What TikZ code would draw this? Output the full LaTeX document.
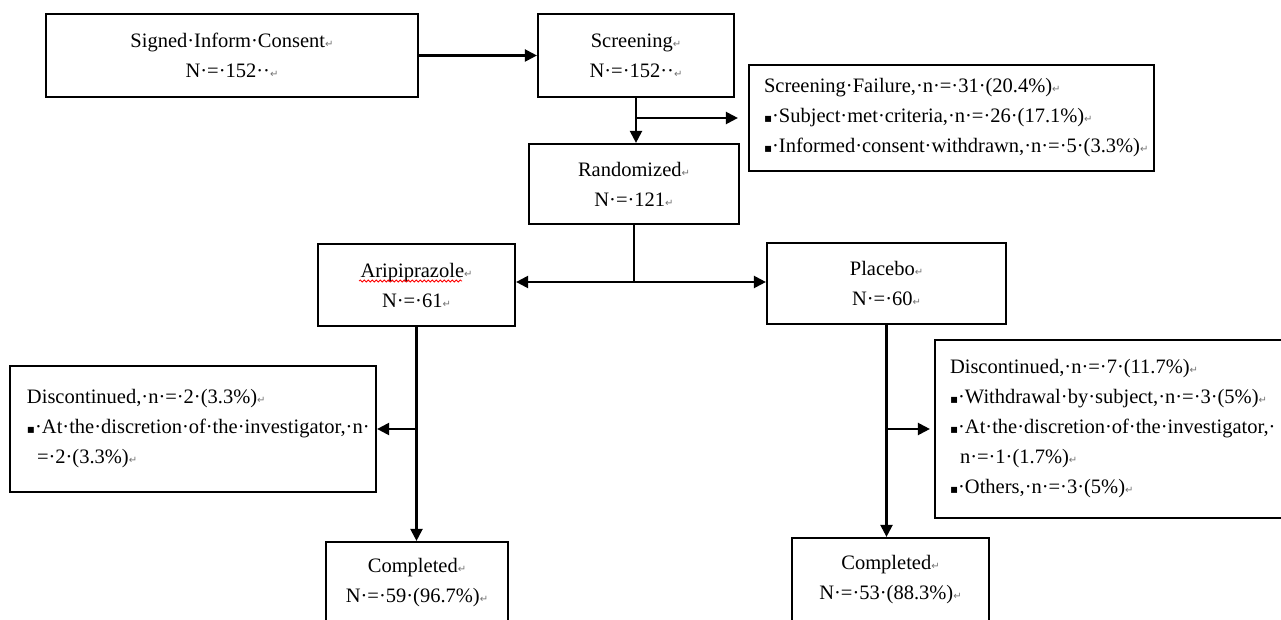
\documentclass[tikz,border=0pt]{standalone}
\usepackage{fontspec}
\setmainfont{Liberation Serif}
\newfontfamily\markfont{DejaVu Sans}
\usetikzlibrary{arrows.meta,calc,positioning,decorations.pathmorphing}
\newcommand{\mainfs}{\fontsize{20.5}{30}\selectfont}
\newcommand{\retmark}{{\markfont\fontsize{10}{10}\selectfont\textcolor{black!55}{↵}}}
\newcommand{\sqbul}{{\markfont\fontsize{12}{12}\selectfont ▪}}
\tikzset{
  box/.style={draw, line width=2.2pt, inner sep=0pt, align=center, font=\mainfs},
  listbox/.style={draw, line width=2.2pt, inner xsep=15pt, inner ysep=0pt, align=left, font=\mainfs},
  flow/.style={line width=2.2pt, ->},
}

\begin{document}
\begin{tikzpicture}[x=1pt, y=-1pt, >={Triangle[length=12pt,width=12pt]}]
\useasboundingbox (0,0) rectangle (1281,620);

% Draw boxes.
\node[box, minimum width=372pt, minimum height=83pt] (consent) at (232,55.5)
  {Signed·Inform·Consent\retmark\\N·=·152··\retmark};
\node[box, minimum width=196pt, minimum height=83pt] (screening) at (636,55.5)
  {Screening\retmark\\N·=·152··\retmark};
\node[listbox, text width=375pt, minimum height=106pt] (failure) at (951.5,118)
  {Screening·Failure,·n·=·31·(20.4\%)\retmark\\
   \sqbul·Subject·met·criteria,·n·=·26·(17.1\%)\retmark\\
   \sqbul·Informed·consent·withdrawn,·n·=·5·(3.3\%)\retmark};
\node[box, minimum width=210pt, minimum height=80pt] (randomized) at (634,184)
  {Randomized\retmark\\N·=·121\retmark};
\node[box, minimum width=197pt, minimum height=82pt] (aripiprazole) at (416.5,285)
  {Aripiprazole\retmark\\N·=·61\retmark};
\node[box, minimum width=239pt, minimum height=81pt] (placebo) at (886.5,283.5)
  {Placebo\retmark\\N·=·60\retmark};
\node[listbox, inner xsep=17pt, text width=332pt, minimum height=126pt] (discA) at (193,429)
  {Discontinued,·n·=·2·(3.3\%)\retmark\\
   \sqbul·At·the·discretion·of·the·investigator,·n·\\
   \hspace*{10pt}=·2·(3.3\%)\retmark};
\node[listbox, text width=325pt, minimum height=178pt] (discP) at (1112.5,429)
  {Discontinued,·n·=·7·(11.7\%)\retmark\\
   \sqbul·Withdrawal·by·subject,·n·=·3·(5\%)\retmark\\
   \sqbul·At·the·discretion·of·the·investigator,·\\
   \hspace*{10pt}n·=·1·(1.7\%)\retmark\\
   \sqbul·Others,·n·=·3·(5\%)\retmark};
\node[box, minimum width=182pt, minimum height=81pt] (completedA) at (417,582.5)
  {Completed\retmark\\N·=·59·(96.7\%)\retmark};
\node[box, minimum width=197pt, minimum height=84pt] (completedP) at (890.5,580)
  {Completed\retmark\\N·=·53·(88.3\%)\retmark};

% Spell check underline.
\draw[red, line width=0.8pt, decorate, decoration={snake, amplitude=1pt, segment length=4pt}]
  (359,281) -- (462,281);

% Draw connectors.
\draw[flow] (consent) -- (screening);
\draw[flow] (screening.south) -- (screening.south |- randomized.north);
\draw[flow, shorten >=10pt] (screening.south |- failure.west) -- (failure.west);

\coordinate (split) at (634,282);
\draw[line width=2.2pt] (randomized.south) -- (split);
\draw[flow] (split) -- (split -| aripiprazole.east);
\draw[flow] (split) -- (split -| placebo.west);

\draw[flow] (aripiprazole.south) -- (aripiprazole.south |- completedA.north);
\draw[flow] (aripiprazole.south |- discA.east) -- (discA.east);

\draw[flow] (placebo.south) -- (placebo.south |- completedP.north);
\draw[flow, shorten >=4pt] (placebo.south |- discP.west) -- (discP.west);
\end{tikzpicture}
\end{document}
